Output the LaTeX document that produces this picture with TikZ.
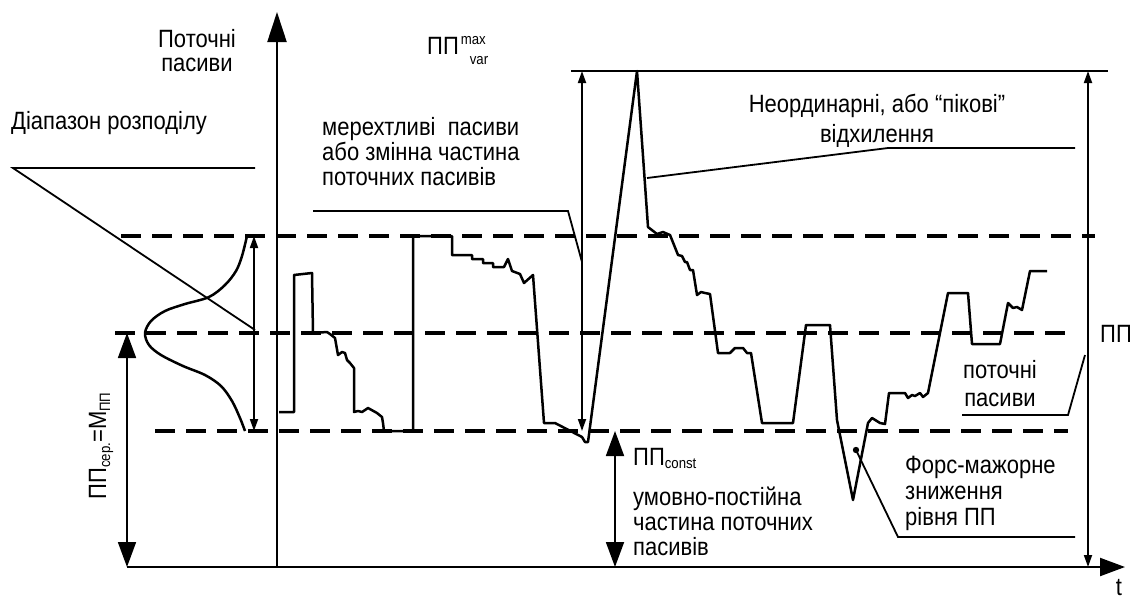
\documentclass[tikz,border=0pt]{standalone}
\usepackage{fontspec}
\setmainfont{Liberation Sans}[FakeStretch=0.88]
\usetikzlibrary{arrows.meta}
\newcommand{\smallsz}{\fontsize{15}{15}\selectfont}
\begin{document}
\begin{tikzpicture}[x=1pt,y=-1pt,
  lbl/.style={font=\fontsize{25}{25}\selectfont, inner sep=0pt},
  sig/.style={line width=2.5pt, line join=round},
  dsh/.style={line width=3.8pt, dash pattern=on 20pt off 11pt},
  lead/.style={line width=1.8pt},
  axis/.style={line width=2.2pt},
  bigtip/.style={-{Triangle[length=25pt,width=18pt]}},
  bigboth/.style={{Triangle[length=25pt,width=18pt]}-{Triangle[length=25pt,width=18pt]}},
  smallboth/.style={{Triangle[length=12pt,width=8pt]}-{Triangle[length=12pt,width=8pt]}}]
\useasboundingbox (0,0) rectangle (1130,598);

% dashed levels
\draw[dsh] (121,236) -- (1095,236);
\draw[dsh] (115,333) -- (1073,333);
\draw[dsh] (155,431) -- (1068,431);

% axes
\draw[axis,-{Triangle[length=30pt,width=19pt]}] (277,567) -- (277,12);
\draw[axis,bigtip] (277,567) -- (1125,567);
\draw[line width=1.4pt] (127,567) -- (277,567);
\node[lbl,anchor=base] (t) at (1119,595) {t};

% distribution curve
\draw[sig] plot[smooth, tension=0.55] coordinates {(247,236) (242,256) (236,271) (225,285) (209,297) (185,304) (165,311) (151,321) (145,333) (149,345) (161,355) (183,366) (205,375) (221,386) (232,401) (240,418) (245,431)};
\draw[lead,smallboth] (254,236) -- (254,431);

% Діапазон розподілу
\node[lbl,anchor=base west] (diap) at (11,129) {Діапазон розподілу};
\coordinate (d0) at (13,168);
\draw[lead] (255,168) -- (d0) -- (255,330);

% Поточні пасиви (axis label)
\node[lbl,align=center,anchor=base,font=\fontsize{25}{24}\selectfont] (yl) at (197,71) {Поточні\\пасиви};

% ПП сер = М ПП
\draw[lead,bigboth] (127,333) -- (127,567);
\node[lbl,rotate=90] (ppser) at (101,446) {ПП\raisebox{-4pt}{\smallsz сер.}=М\raisebox{-4pt}{\smallsz ПП}};

% signal
\draw[sig] (279,412) -- (294,412) -- (294,275) -- (312,273) -- (313,333) -- (327,332) -- (330,334) -- (335,338) -- (338,355) -- (342,352) -- (345,353) -- (347,360) -- (350,363) -- (354,368) -- (354,412) -- (358,411) -- (362,412) -- (365,410) -- (368,408) -- (377,413) -- (382,417) -- (383,423) -- (384,431) -- (413,431) -- (413,236) -- (452,236) -- (452,255) -- (472,255) -- (472,259) -- (483,259) -- (483,263) -- (493,263) -- (493,267) -- (504,267) -- (508,259) -- (512,271) -- (520,274) -- (524,283) -- (533,275) -- (544,423) -- (555,423) -- (582,437) -- (585,442) -- (588,442) -- (637,71) -- (648,227) -- (657,234) -- (663,232) -- (670,235) -- (678,255) -- (682,256) -- (685,262) -- (687,262) -- (690,270) -- (693,270) -- (697,295) -- (701,292) -- (705,293) -- (710,294) -- (718,353) -- (730,353) -- (735,348) -- (743,348) -- (747,353) -- (751,353) -- (762,423) -- (793,423) -- (806,325) -- (830,325) -- (837,420) -- (853,500) -- (868,423) -- (872,418) -- (880,423) -- (885,424) -- (889,393) -- (905,393) -- (908,398) -- (912,395) -- (915,396) -- (920,393) -- (923,397) -- (928,393) -- (948,293) -- (968,293) -- (972,344) -- (1000,344) -- (1008,303) -- (1013,308) -- (1017,307) -- (1022,310) -- (1030,271) -- (1047,271);

% top level and arrows
\draw[lead] (571,71) -- (1108,71);
\draw[lead,smallboth] (582,71) -- (582,431);
\draw[lead,smallboth] (1088,71) -- (1088,567);
\node[lbl,anchor=base west] (ppmax) at (427,54) {ПП\kern2pt\rlap{\raisebox{10pt}{\smallsz max}}\kern9pt\raisebox{-10pt}{\smallsz var}};

% мерехтливі пасиви
\node[lbl,align=left,anchor=base west] (mer) at (322,185) {мерехтливі\ \ пасиви\\або змінна частина\\поточних пасивів};
\draw[lead] (313,211) -- (568,211) -- (582,262);

% Неординарні
\node[lbl,align=center,anchor=base,font=\fontsize{25}{30}\selectfont] (neo) at (877,142) {Неординарні, або “пікові”\\відхилення};
\draw[lead] (647,178) -- (888,148) -- (1075,148);

% ПП right
\node[lbl,anchor=base west] (ppr) at (1100,342) {ПП};

% поточні пасиви right
\node[lbl,align=center,anchor=base,font=\fontsize{25}{28}\selectfont] (potr) at (1000,406) {поточні\\пасиви};
\draw[lead] (962,415) -- (1068,415) -- (1085,355);

% Форс-мажорне
\node[lbl,align=left,anchor=base west,font=\fontsize{25}{26}\selectfont] (fors) at (905,525) {Форс-мажорне\\зниження\\рівня ПП};
\fill (856,450) circle (3.2pt);
\draw[lead] (856,450) -- (898,537) -- (1075,537);

% ПП const
\draw[lead,bigboth] (615,431) -- (615,567);
\node[lbl,anchor=base west] (ppc) at (633,465) {ПП\raisebox{-3pt}{\smallsz const}};
\node[lbl,align=left,anchor=base west] (umov) at (633,555) {умовно-постійна\\частина поточних\\пасивів};
\end{tikzpicture}
\end{document}
